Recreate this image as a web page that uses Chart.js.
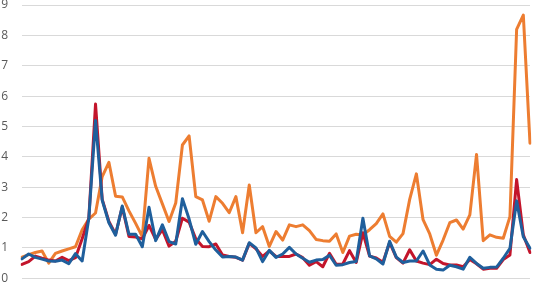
<!DOCTYPE html>
<html>
<head>
<meta charset="utf-8">
<script src="https://cdn.jsdelivr.net/npm/chart.js@4"></script>
<style>
    body { margin: 0; background: #fff; }
    canvas { display: block; }
</style>
</head>
<body>
<canvas id="trendChart" width="533" height="283"></canvas>
<script>
// Serilerin değerleri (77 nokta)
const orangeValues = [
    0.7, 0.78, 0.85, 0.9, 0.5, 0.82, 0.9, 0.97, 1.04, 1.6,
    1.95, 2.15, 3.35, 3.82, 2.7, 2.68, 2.22, 1.81, 1.37, 3.95,
    3.03, 2.45, 1.87, 2.48, 4.39, 4.69, 2.69, 2.58, 1.88, 2.69,
    2.47, 2.16, 2.69, 1.5, 3.07, 1.5, 1.7, 1.05, 1.54, 1.26,
    1.76, 1.7, 1.76, 1.57, 1.28, 1.24, 1.22, 1.46, 0.85, 1.39,
    1.45, 1.43, 1.6, 1.8, 2.12, 1.38, 1.19, 1.47, 2.6, 3.44,
    1.93, 1.46, 0.76, 1.26, 1.83, 1.92, 1.62, 2.09, 4.08, 1.24,
    1.43, 1.35, 1.32, 2.03, 8.2, 8.67, 4.45
];
const redValues = [
    0.46, 0.55, 0.73, 0.66, 0.6, 0.57, 0.69, 0.58, 0.68, 1.3,
    1.98, 5.74, 2.6, 1.87, 1.45, 2.35, 1.38, 1.36, 1.3, 1.74,
    1.28, 1.6, 1.06, 1.22, 1.98, 1.85, 1.3, 1.05, 1.04, 1.13,
    0.77, 0.72, 0.69, 0.6, 1.15, 0.97, 0.72, 0.9, 0.72, 0.72,
    0.72, 0.8, 0.68, 0.43, 0.55, 0.38, 0.82, 0.46, 0.47, 0.91,
    0.52, 1.5, 0.73, 0.67, 0.53, 1.18, 0.68, 0.5, 0.94, 0.57,
    0.5, 0.45, 0.63, 0.49, 0.44, 0.44, 0.38, 0.62, 0.48, 0.3,
    0.33, 0.33, 0.62, 0.77, 3.25, 1.43, 0.85
];
const blueValues = [
    0.64, 0.8, 0.69, 0.63, 0.57, 0.56, 0.6, 0.48, 0.81, 0.57,
    1.98, 5.2, 2.57, 1.83, 1.42, 2.38, 1.45, 1.45, 1.04, 2.34,
    1.24, 1.76, 1.21, 1.13, 2.62, 1.95, 1.12, 1.54, 1.21, 0.93,
    0.7, 0.72, 0.7, 0.6, 1.17, 1.0, 0.55, 0.92, 0.69, 0.8,
    1.02, 0.8, 0.66, 0.53, 0.6, 0.62, 0.76, 0.43, 0.45, 0.52,
    0.55, 1.98, 0.74, 0.64, 0.47, 1.22, 0.7, 0.52, 0.57, 0.57,
    0.9, 0.44, 0.3, 0.27, 0.43, 0.38, 0.3, 0.69, 0.49, 0.33,
    0.36, 0.37, 0.66, 0.99, 2.55, 1.37, 0.99
];
// Kategoriler (x ekseni etiketleri görünmüyor)
const categories = orangeValues.map((_, i) => String(i + 1));
// Y ekseni: 0..9
const yTicks = [0, 1, 2, 3, 4, 5, 6, 7, 8, 9];

document.addEventListener("DOMContentLoaded", () => {
    const ctx = document.getElementById('trendChart').getContext('2d');
    new Chart(ctx, {
        type: 'line',
        data: {
            labels: categories,
            datasets: [
                { data: blueValues, borderColor: '#1f5f9c' },   // en üstte
                { data: redValues, borderColor: '#c3152b' },
                { data: orangeValues, borderColor: '#ed7d31' }  // en altta
            ]
        },
        options: {
            responsive: false,
            animation: false,
            layout: { padding: { top: 0, right: 3, bottom: 0, left: 0 } },
            elements: {
                line: { borderWidth: 3, tension: 0, fill: false, borderCapStyle: 'round', borderJoinStyle: 'round' },
                point: { radius: 0 }
            },
            plugins: {
                legend: { display: false },
                tooltip: { enabled: false }
            },
            scales: {
                x: { display: false },
                y: {
                    min: yTicks[0],
                    max: yTicks[yTicks.length - 1],
                    afterBuildTicks: (s) => { s.ticks = yTicks.map(v => ({ value: v })); },
                    afterFit: (s) => {
                        s.width = 22;
                        s.paddingTop = 5;
                        s.paddingBottom = 4.7;
                    },
                    border: { display: false },
                    grid: { color: '#d9d9d9', lineWidth: 1, drawTicks: false },
                    ticks: {
                        padding: 14,
                        color: '#595959',
                        font: { family: 'Open Sans', size: 12 }
                    }
                }
            }
        }
    });
});
</script>
</body>
</html>
